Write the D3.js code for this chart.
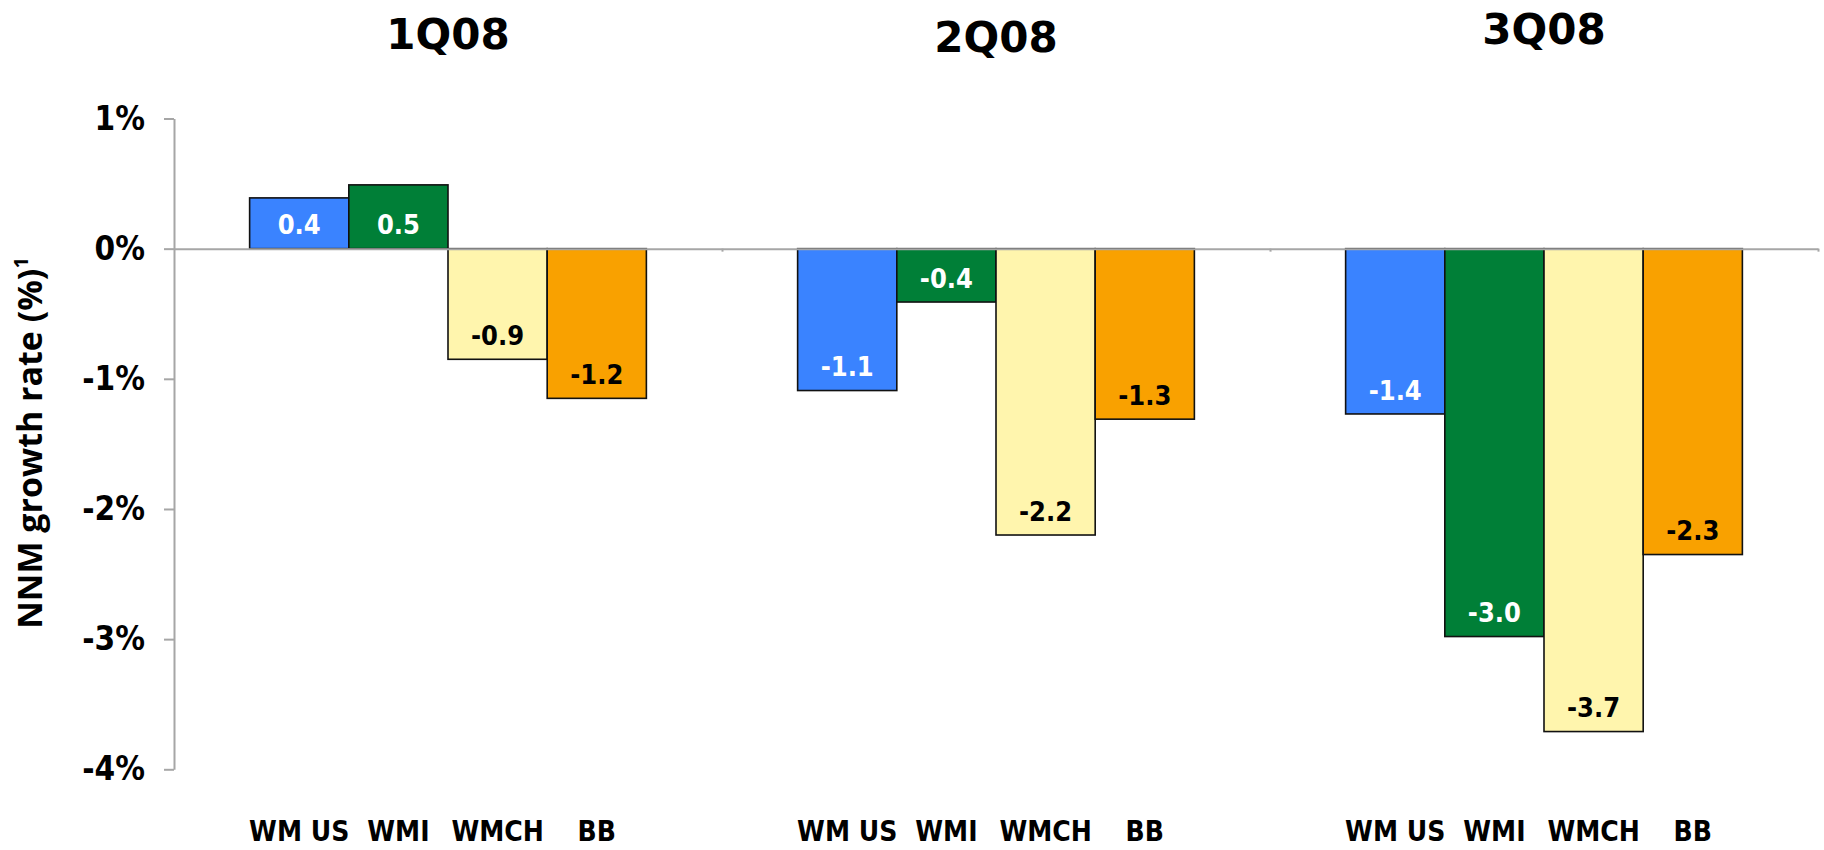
<!DOCTYPE html>
<html>
<head>
<meta charset="utf-8">
<script src="https://cdn.jsdelivr.net/npm/d3@7"></script>
<style>
    body { margin: 0; background: #fff; }
    .axis path, .axis line { stroke: #a6a6a6; stroke-width: 2px; }
    .axis text { font-family: "DejaVu Sans Condensed", "DejaVu Sans", sans-serif; font-stretch: condensed; font-weight: bold; font-size: 33px; fill: #000; }
    .title { font-family: "DejaVu Sans", sans-serif; font-weight: bold; font-size: 42px; }
    .value, .cat { font-family: "DejaVu Sans Condensed", "DejaVu Sans", sans-serif; font-stretch: condensed; font-weight: bold; }
    .y-title { font-family: "Open Sans", sans-serif; font-weight: bold; font-size: 34px; }
</style>
</head>
<body>
<div id="chart"></div>
<script>
var quarters = ["1Q08", "2Q08", "3Q08"];
var units = ["WM US", "WMI", "WMCH", "BB"];

// NNM growth per quarter, one array per unit
var wmUs = [0.39, -1.09, -1.27];
var wmi = [0.49, -0.41, -2.98];
var wmch = [-0.85, -2.20, -3.71];
var bb = [-1.15, -1.31, -2.35];

// labels as printed on the bars
var wmUsLabels = ["0.4", "-1.1", "-1.4"];
var wmiLabels = ["0.5", "-0.4", "-3.0"];
var wmchLabels = ["-0.9", "-2.2", "-3.7"];
var bbLabels = ["-1.2", "-1.3", "-2.3"];

var yTicks = [1, 0, -1, -2, -3, -4];

var colors = ["#3a83ff", "#007f37", "#fff5ad", "#f9a100"];
var labelColors = ["#fff", "#fff", "#000", "#000"];
var titleShift = [0, 3, -5];

var series = [wmUs, wmi, wmch, bb];
var seriesLabels = [wmUsLabels, wmiLabels, wmchLabels, bbLabels];

var rows = [];
quarters.forEach(function (q, qi) {
    units.forEach(function (u, ui) {
        rows.push({
            quarter: q,
            unit: u,
            index: ui,
            value: series[ui][qi],
            label: seriesLabels[ui][qi]
        });
    });
});

var width = 1824,
    height = 850;

var x = d3.scaleBand()
    .domain(quarters)
    .range([174, 1818])
    .paddingInner(0.276)
    .paddingOuter(0.138);

var xInner = d3.scaleBand()
    .domain(units)
    .range([0, x.bandwidth()]);

var y = d3.scaleLinear()
    .domain([-4, 1])
    .range([769.3, 118.5]);

var svg = d3.select("#chart").append("svg")
    .attr("width", width)
    .attr("height", height);

// quarter titles
svg.selectAll(".title")
    .data(quarters)
    .enter().append("text")
    .attr("class", "title")
    .attr("x", function (d) {
        return x(d) + x.bandwidth() / 2;
    })
    .attr("y", function (d, i) {
        return 49 + titleShift[i];
    })
    .attr("text-anchor", "middle")
    .text(function (d) {
        return d;
    });

// bars
svg.selectAll(".bar")
    .data(rows)
    .enter().append("rect")
    .attr("class", "bar")
    .attr("x", function (d) {
        return x(d.quarter) + xInner(d.unit);
    })
    .attr("width", xInner.bandwidth())
    .attr("y", function (d) {
        return y(Math.max(0, d.value));
    })
    .attr("height", function (d) {
        return Math.abs(y(d.value) - y(0));
    })
    .attr("fill", function (d) {
        return colors[d.index];
    })
    .attr("stroke", "#111")
    .attr("stroke-width", 1.6);

// y axis
svg.append("g")
    .attr("class", "axis axis--y")
    .attr("transform", "translate(174,0)")
    .call(d3.axisLeft(y).tickValues(yTicks).tickSize(10).tickSizeOuter(0).tickPadding(19)
        .tickFormat(function (d) {
            return d + "%";
        }));

// zero line with small marks between quarters
var boundary = d3.scaleLinear().domain([0, quarters.length]).range(x.range());
svg.append("g")
    .attr("class", "axis axis--x")
    .attr("transform", "translate(0," + y(0) + ")")
    .call(d3.axisBottom(boundary).tickValues([1, 2, 3]).tickSize(3).tickSizeOuter(0).tickFormat(""));

// value labels
svg.selectAll(".value")
    .data(rows)
    .enter().append("text")
    .attr("class", "value")
    .attr("x", function (d) {
        return x(d.quarter) + xInner(d.unit) + xInner.bandwidth() / 2;
    })
    .attr("y", function (d) {
        return d.value > 0 ? y(0) - 24 : y(d.value) - 24;
    })
    .attr("dy", "0.36em")
    .attr("text-anchor", "middle")
    .attr("font-size", 27)
    .attr("fill", function (d) {
        return labelColors[d.index];
    })
    .text(function (d) {
        return d.label;
    });

// unit names under each group
svg.selectAll(".cat")
    .data(rows)
    .enter().append("text")
    .attr("class", "cat")
    .attr("x", function (d) {
        return x(d.quarter) + xInner(d.unit) + xInner.bandwidth() / 2;
    })
    .attr("y", 841)
    .attr("text-anchor", "middle")
    .attr("font-size", 28)
    .text(function (d) {
        return d.unit;
    });

// y axis title
var yTitle = svg.append("text")
    .attr("class", "y-title")
    .attr("transform", "translate(42,443) rotate(-90)")
    .attr("text-anchor", "middle");
yTitle.append("tspan").text("NNM growth rate (%)");
yTitle.append("tspan")
    .attr("font-size", 20)
    .attr("dy", -14)
    .text("1");
</script>
</body>
</html>
